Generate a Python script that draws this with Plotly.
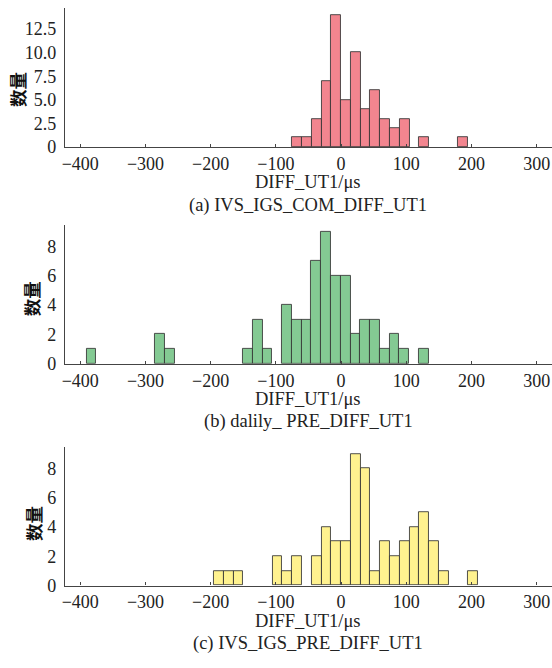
import plotly.graph_objects as go

# ---- data ----
bin_width = 15
a_start = -75
a_counts = [1, 1, 3, 7, 14, 5, 10, 4, 6, 3, 2, 3, 0, 1, 0, 0, 0, 1]
b_start = -390.5
b_counts = [1, 0, 0, 0, 0, 0, 0, 2, 1, 0, 0, 0, 0, 0, 0, 0,
            1, 3, 1, 0, 4, 3, 3, 7, 9, 6, 6, 2, 3, 3, 1, 2, 1, 0, 1]
c_start = -195
c_counts = [1, 1, 1, 0, 0, 0, 2, 1, 2, 0, 2, 4, 3, 3, 9, 8, 1, 3, 2, 3,
            4, 5, 3, 1, 0, 0, 1]

x_ticks = [-400, -300, -200, -100, 0, 100, 200, 300]
x_ticktext = ["\u2212400", "\u2212300", "\u2212200", "\u2212100", "0", "100", "200", "300"]
a_yticks = [0, 2.5, 5, 7.5, 10, 12.5]
a_yticktext = ["0", "2.5", "5.0", "7.5", "10.0", "12.5"]
bc_yticks = [0, 2, 4, 6, 8]
bc_yticktext = ["0", "2", "4", "6", "8"]

captions = ["(a) IVS_IGS_COM_DIFF_UT1", "(b) dalily_ PRE_DIFF_UT1", "(c) IVS_IGS_PRE_DIFF_UT1"]
colors = ["#F2858F", "#84CA93", "#FFF28F"]
xlabel = "DIFF_UT1/\u03bcs"
ylabel = "数量"

W, H = 552, 668
SERIF = "Liberation Serif, Times New Roman, serif"
CJK = "Noto Sans CJK SC"
TXT = "#222222"
AX = "#444444"

# pixel layout of each panel: (top, baseline)
panels = [(8.3, 149.3), (228.3, 369.3), (454, 594.5)]
ylab_pos = [(14, 90.5), (29, 303), (30, 531)]
x_left = 62.3

def py(p):
    return 1 - p / H

fig = go.Figure()
data = [(a_start, a_counts), (b_start, b_counts), (c_start, c_counts)]
ymax = [14.7, 9.45, 9.45]
yt = [(a_yticks, a_yticktext), (bc_yticks, bc_yticktext), (bc_yticks, bc_yticktext)]

for i, (start, counts) in enumerate(data):
    xs, ys = [], []
    for k, c in enumerate(counts):
        if c > 0:
            xs.append(start + (k + 0.5) * bin_width)
            ys.append(c)
    sfx = "" if i == 0 else str(i + 1)
    fig.add_trace(go.Bar(
        x=xs, y=ys, width=bin_width,
        marker=dict(color=colors[i], line=dict(color="rgba(50,50,50,0.85)", width=1)),
        xaxis="x" + sfx, yaxis="y" + sfx, showlegend=False,
    ))
    top, base = panels[i]
    fig.layout["xaxis" + sfx] = dict(
        domain=[x_left / W, 1], range=[-423.5, 323.5], anchor="y" + sfx,
        tickmode="array", tickvals=x_ticks, ticktext=x_ticktext,
        ticks="inside", ticklen=3, tickcolor=AX, tickwidth=1,
        showline=True, linecolor=AX, linewidth=1.3, showgrid=False, zeroline=False,
        tickfont=dict(family=SERIF, size=18, color=TXT), fixedrange=True,
    )
    fig.layout["yaxis" + sfx] = dict(
        domain=[py(base), py(top)], range=[0, ymax[i]], anchor="x" + sfx,
        tickmode="array", tickvals=yt[i][0], ticktext=yt[i][1],
        ticks="", showline=True, linecolor=AX, linewidth=1.3,
        showgrid=False, zeroline=False, ticklabelstandoff=4,
        tickfont=dict(family=SERIF, size=18, color=TXT), fixedrange=True,
    )
    cx = (x_left + W) / 2 / W
    fig.add_annotation(x=cx, y=py(base + 35.7), xref="paper", yref="paper",
                       text=xlabel, showarrow=False, xanchor="center", yanchor="middle",
                       font=dict(family=SERIF, size=18.5, color=TXT))
    fig.add_annotation(x=cx, y=py(base + 59), xref="paper", yref="paper",
                       text=captions[i], showarrow=False, xanchor="center", yanchor="middle",
                       font=dict(family=SERIF, size=18.5, color=TXT))
    lx, ly = ylab_pos[i]
    fig.add_annotation(x=lx / W, y=py(ly), xref="paper", yref="paper",
                       text=ylabel, showarrow=False, textangle=-90,
                       xanchor="center", yanchor="middle",
                       font=dict(family=CJK, size=17.5, color="#111111", weight=700))

fig.update_layout(
    width=W, height=H, margin=dict(l=0, r=0, t=0, b=0),
    paper_bgcolor="white", plot_bgcolor="white", bargap=0,
)
fig.write_html("out.html")
